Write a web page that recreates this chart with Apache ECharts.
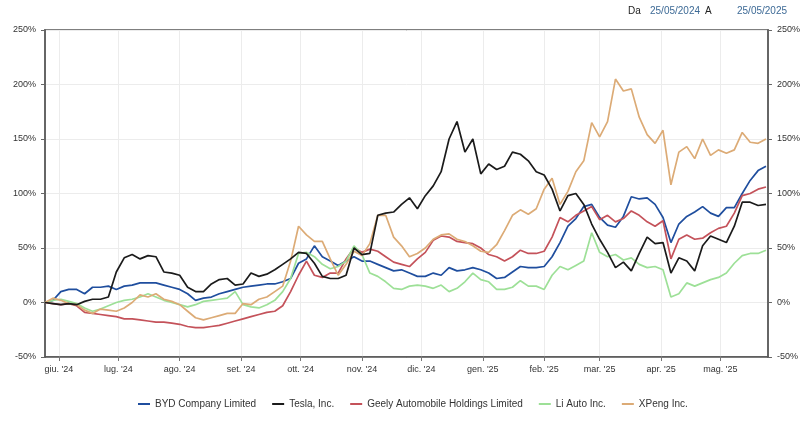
<!DOCTYPE html>
<html>
<head>
<meta charset="utf-8">
<script src="https://cdn.jsdelivr.net/npm/echarts@6/dist/echarts.min.js"></script>
<style>
  html, body { margin: 0; padding: 0; background: #fff; }
  #chart { width: 803px; height: 426px; }
</style>
</head>
<body>
<div id="chart"></div>
<script>
// performance in %, one value every 4 days from 25/05/2024
const byd = [0, 2, 10, 12, 12, 8, 14, 14, 15, 12, 15, 16, 18, 18, 18, 16, 14, 12, 8, 2,
  4, 5, 8, 10, 12, 14, 15, 16, 17, 17, 19, 22, 36, 40, 52, 42, 38, 34, 38, 42,
  38, 38, 35, 32, 29, 30, 27, 24, 24, 27, 25, 32, 29, 30, 32, 30, 27, 22, 23, 28,
  33, 32, 32, 33, 42, 55, 70, 77, 88, 90, 78, 71, 69, 79, 97, 95, 96, 90, 78, 55,
  72, 79, 83, 88, 82, 79, 87, 87, 100, 112, 121, 125];
const tesla = [0, -1, -2, -1, -2, 1, 3, 3, 5, 28, 41, 44, 40, 43, 42, 28, 27, 25, 14, 10,
  10, 17, 21, 22, 16, 17, 27, 24, 26, 30, 35, 40, 46, 45, 36, 24, 22, 22, 25, 50,
  44, 45, 80, 82, 83, 90, 96, 86, 98, 107, 120, 150, 166, 138, 150, 118, 127, 122, 125, 138,
  136, 130, 120, 117, 104, 84, 98, 100, 90, 72, 58, 46, 32, 37, 29, 45, 60, 54, 55, 27,
  41, 38, 29, 52, 61, 58, 55, 70, 92, 92, 89, 90];
const geely = [0, -1, -2, -1, -3, -9, -10, -11, -12, -13, -15, -15, -16, -17, -18, -18, -19, -20, -22, -23,
  -23, -22, -21, -19, -17, -15, -13, -11, -9, -8, -3, 10, 25, 38, 25, 23, 27, 27, 40, 50,
  46, 49, 47, 42, 37, 35, 33, 40, 46, 57, 61, 60, 56, 55, 54, 50, 44, 42, 38, 42,
  48, 45, 45, 47, 60, 78, 74, 80, 84, 88, 76, 80, 74, 77, 84, 80, 74, 70, 75, 40,
  58, 62, 58, 59, 64, 68, 70, 82, 98, 100, 104, 106];
const liAuto = [0, 2, 3, 1, -1, -5, -8, -6, -3, 0, 2, 3, 5, 8, 5, 2, 0, -2, -4, -2,
  1, 2, 3, 4, 10, -2, -4, -5, -2, 2, 10, 22, 45, 46, 42, 35, 31, 33, 38, 52,
  44, 27, 24, 19, 13, 12, 15, 16, 15, 13, 16, 10, 13, 19, 27, 21, 19, 12, 12, 14,
  20, 15, 15, 12, 25, 33, 30, 34, 38, 64, 46, 42, 44, 39, 41, 35, 32, 33, 30, 5,
  8, 18, 15, 18, 21, 23, 27, 36, 43, 45, 45, 48];
const xpeng = [0, 4, 2, -1, -2, -7, -10, -6, -7, -8, -5, 0, 7, 5, 8, 3, 1, -2, -8, -14,
  -16, -14, -12, -10, -10, -1, -2, 3, 5, 10, 15, 38, 70, 62, 56, 56, 40, 25, 35, 47,
  43, 54, 80, 80, 60, 52, 42, 45, 50, 58, 62, 63, 58, 56, 52, 47, 46, 53, 66, 80,
  85, 81, 86, 104, 114, 90, 102, 120, 130, 165, 152, 166, 205, 194, 196, 170, 154, 146, 158, 108,
  138, 143, 132, 150, 135, 140, 137, 140, 156, 147, 146, 150];

const seriesNames = ['BYD Company Limited', 'Tesla, Inc.', 'Geely Automobile Holdings Limited', 'Li Auto Inc.', 'XPeng Inc.'];
const seriesColors = ['#1f4e9e', '#1b1b1b', '#c4525a', '#9de097', '#dcab76'];
const monthNames = ['gen', 'feb', 'mar', 'apr', 'mag', 'giu', 'lug', 'ago', 'set', 'ott', 'nov', 'dic'];
const yTicks = [-50, 0, 50, 100, 150, 200, 250];

const startDate = new Date(2024, 4, 25);
const endDate = new Date(2025, 4, 25);
const dayMs = 86400000;
const dates = byd.map((v, i) => startDate.getTime() + i * 4 * dayMs);

const font = 'Liberation Sans, Arial, sans-serif';
const chart = echarts.init(document.getElementById('chart'));

function pairs(values) {
  return values.map((v, i) => [dates[i], v]);
}

const allValues = [byd, tesla, geely, liAuto, xpeng];

const yAxisBase = {
  type: 'value',
  min: yTicks[0],
  max: yTicks[yTicks.length - 1],
  interval: 50,
  axisLine: { show: true, lineStyle: { color: '#666', width: 2 } },
  axisTick: { show: true, length: 4, lineStyle: { color: '#666' } },
  axisLabel: {
    formatter: '{value}%',
    color: '#333',
    fontSize: 9,
    fontFamily: font,
    margin: 9
  }
};

const option = {
  animation: false,
  backgroundColor: '#fff',
  color: seriesColors,
  textStyle: { fontFamily: font },
  graphic: [{
    type: 'text', left: 628, top: 6,
    style: { text: 'Da', fill: '#222', font: '10px ' + font }
  }, {
    type: 'text', left: 650, top: 6,
    style: { text: '25/05/2024', fill: '#3d6a96', font: '10px ' + font }
  }, {
    type: 'text', left: 705, top: 6,
    style: { text: 'A', fill: '#222', font: '10px ' + font }
  }, {
    type: 'text', left: 737, top: 6,
    style: { text: '25/05/2025', fill: '#3d6a96', font: '10px ' + font }
  }],
  grid: {
    left: 45,
    right: 35,
    top: 30,
    bottom: 69,
    show: true,
    borderColor: '#555',
    borderWidth: 1.5
  },
  legend: {
    bottom: 12,
    left: 133,
    icon: 'rect',
    itemWidth: 12,
    itemHeight: 2,
    itemGap: 16,
    textStyle: { color: '#333', fontSize: 10, fontFamily: font },
    data: seriesNames
  },
  xAxis: {
    type: 'time',
    min: startDate.getTime(),
    max: endDate.getTime(),
    minInterval: 28 * dayMs,
    maxInterval: 31 * dayMs,
    axisLine: { onZero: false, lineStyle: { color: '#555', width: 1.5 } },
    axisTick: { show: true, length: 4, lineStyle: { color: '#777' } },
    splitLine: { show: true, lineStyle: { color: '#ececec' } },
    axisLabel: {
      color: '#333',
      fontSize: 9,
      fontFamily: font,
      margin: 8,
      hideOverlap: false,
      formatter: function (value) {
        const d = new Date(value);
        if (d.getDate() !== 1) return '';
        return monthNames[d.getMonth()] + ". '" + String(d.getFullYear()).slice(2);
      }
    }
  },
  yAxis: [
    Object.assign({}, yAxisBase, {
      position: 'left',
      splitLine: { show: true, lineStyle: { color: '#ececec' } }
    }),
    Object.assign({}, yAxisBase, {
      position: 'right',
      splitLine: { show: false }
    })
  ],
  series: seriesNames.map((name, i) => ({
    name: name,
    type: 'line',
    showSymbol: false,
    symbol: 'none',
    data: pairs(allValues[i]),
    lineStyle: { width: 1.7, color: seriesColors[i] },
    z: i === 1 ? 3 : 2
  }))
};

chart.setOption(option);
</script>
</body>
</html>
